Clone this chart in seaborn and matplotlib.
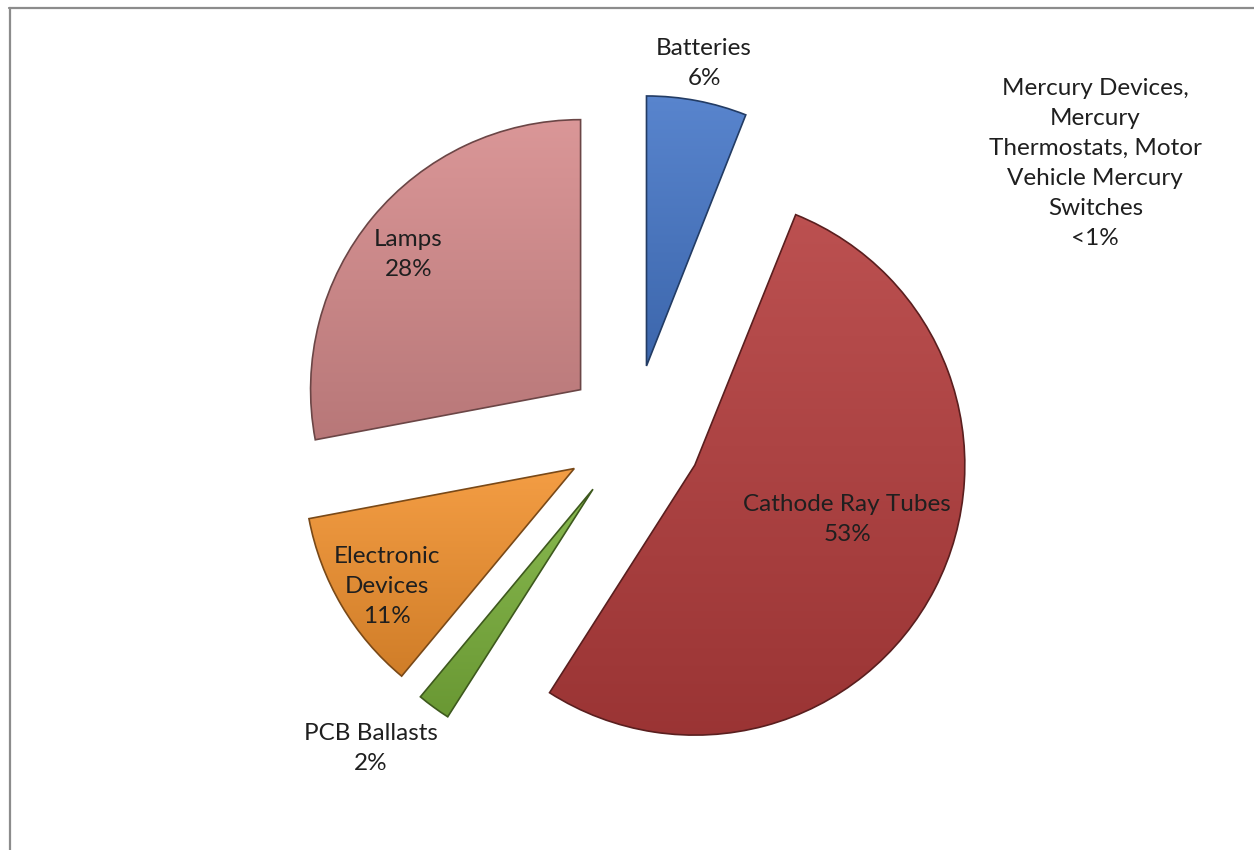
import numpy as np
import matplotlib
matplotlib.use("Agg")
import matplotlib.pyplot as plt
import seaborn as sns
from matplotlib.colors import to_rgb
from matplotlib.lines import Line2D
from matplotlib.patches import Wedge

# data (clockwise from 12 o'clock)
categories = ["Batteries",
              "Mercury Devices,\nMercury\nThermostats, Motor\nVehicle Mercury\nSwitches",
              "Cathode Ray Tubes", "PCB Ballasts", "Electronic\nDevices", "Lamps"]
shares = [6, 0.1, 53, 2, 11, 28]
pct_labels = ["6%", "<1%", "53%", "2%", "11%", "28%"]
slice_colors = ["#4677c8", "#8064a2", "#b43d3d", "#7bb13c", "#f2922f", "#d68b8c"]

sns.set_style("white")
plt.rcParams["font.family"] = ["Lato", "DejaVu Sans"]

fig = plt.figure(figsize=(12.54, 8.5), dpi=100)
ax = fig.add_axes([0, 0, 1, 1])

wedges, _ = ax.pie(shares, startangle=90, counterclock=False, radius=1,
                   explode=[0.255] * len(shares), colors=slice_colors,
                   wedgeprops=dict(linewidth=0))


def shade(c, f):
    c = np.array(to_rgb(c))
    if f > 0:
        return c + (1 - c) * f
    return c * (1 + f)


# fake the glossy excel look: vertical gradient clipped to each wedge + dark rim
for w, c in zip(wedges, slice_colors):
    if w.theta2 - w.theta1 < 1:
        # the <1% slice is practically invisible in the original
        w.set_visible(False)
        continue
    ext = w.get_path().get_extents()
    t = np.linspace(0, 1, 64)[:, None, None]
    top, bot = shade(c, 0.1), shade(c, -0.14)
    img = bot * (1 - t) + top * t
    img = np.repeat(img, 4, axis=1)
    im = ax.imshow(img, extent=(ext.x0, ext.x1, ext.y0, ext.y1), origin="lower",
                   interpolation="bilinear", zorder=w.get_zorder() + 0.1)
    im.set_clip_path(w)
    ax.add_patch(Wedge(w.center, w.r, w.theta1, w.theta2, facecolor="none",
                       edgecolor=shade(c, -0.5), linewidth=1.2,
                       zorder=w.get_zorder() + 0.2))

# label placement: distance along each wedge's mid angle (fraction of radius)
# plus a small angular nudge (deg, ccw)
label_dist = [1.14, None, 0.60, 1.265, 0.82, 0.81]
label_nudge = [0, 0, 7.5, -4.5, 1.8, 1.5]
for w, name, pct, d, nd in zip(wedges, categories, pct_labels, label_dist, label_nudge):
    txt = f"{name}\n{pct}"
    if d is None:
        # the tiny mercury slice gets its label parked top right
        ax.text(1.71, 1.0, txt, ha="center", va="center", fontsize=17.5,
                color="#1f1f1f", linespacing=1.52, zorder=10)
        continue
    mid = np.deg2rad((w.theta1 + w.theta2) / 2 + nd)
    x = w.center[0] + d * np.cos(mid)
    y = w.center[1] + d * np.sin(mid)
    ax.text(x, y, txt, ha="center", va="center", fontsize=17.5,
            color="#1f1f1f", linespacing=1.52, zorder=10)

# keep 1 unit = 270 px, pie centre at (634, 434) px
px = 270.0
ax.set_xlim(-633.6 / px, (1254 - 633.6) / px)
ax.set_ylim(-(850 - 433.6) / px, 433.6 / px)
ax.set_aspect("equal")
ax.axis("off")

# grey frame, top and left edges only as in the scan
fig.add_artist(Line2D([9 / 1254, 1.0], [1 - 8 / 850, 1 - 8 / 850],
                      transform=fig.transFigure, color="#8c8c8c", lw=1.6))
fig.add_artist(Line2D([10 / 1254, 10 / 1254], [0, 1 - 8 / 850],
                      transform=fig.transFigure, color="#8c8c8c", lw=1.6))

fig.savefig("out.png", dpi=100, facecolor="white")
